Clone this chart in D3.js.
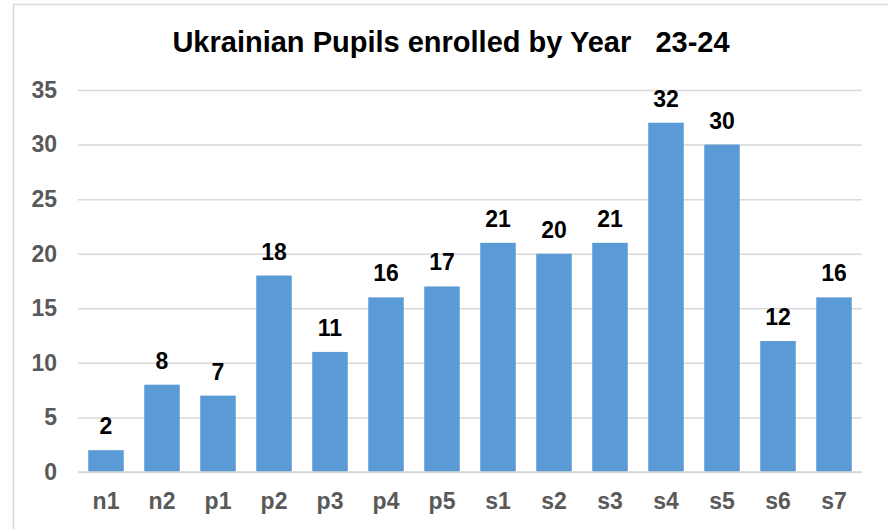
<!DOCTYPE html>
<html>
<head>
<meta charset="utf-8">
<script src="https://d3js.org/d3.v7.min.js"></script>
<style>
  body { margin: 0; background: #fff; }
  svg { display: block; font-family: "Liberation Sans", Arial, sans-serif; }
</style>
</head>
<body>
<div id="chart"></div>
<script>
// data
const years = ["n1", "n2", "p1", "p2", "p3", "p4", "p5", "s1", "s2", "s3", "s4", "s5", "s6", "s7"]
const pupils = [2, 8, 7, 18, 11, 16, 17, 21, 20, 21, 32, 30, 12, 16]
const yTicks = [0, 5, 10, 15, 20, 25, 30, 35]
const titleText = "Ukrainian Pupils enrolled by Year   23-24"

const width = 888
const height = 529
const margin = { top: 90, right: 26, bottom: 57, left: 78 }
const labelSize = 23

const svg = d3.select("#chart")
    .append("svg")
    .attr("width", width)
    .attr("height", height)

// chart border (runs off the right and bottom edge)
svg.append("rect")
    .attr("x", 13.5)
    .attr("y", 4.5)
    .attr("width", 1000)
    .attr("height", 1000)
    .attr("fill", "none")
    .attr("stroke", "#d9d9d9")
    .attr("stroke-width", 1.5)

const x = d3.scaleBand()
    .domain(years)
    .range([margin.left, width - margin.right])
    .paddingInner(0.366)
    .paddingOuter(0.183)

const y = d3.scaleLinear()
    .domain([0, 35])
    .range([height - margin.bottom, margin.top])

// gridlines + y labels
const yAxis = g => g.attr("transform", `translate(${margin.left},0)`)
    .call(d3.axisLeft(y).tickValues(yTicks).tickSize(-(width - margin.left - margin.right)).tickPadding(21))
    .call(g => g.select(".domain").remove())
    .call(g => g.selectAll(".tick line").attr("stroke", "#d9d9d9").attr("stroke-width", 1.5))
    .call(g => g.selectAll(".tick text")
        .attr("fill", "#595959")
        .attr("font-size", labelSize)
        .attr("font-weight", "bold")
        .attr("font-family", "'Liberation Sans', Arial, sans-serif"))

svg.append("g").call(yAxis)

// bars
svg.append("g")
    .selectAll("rect")
    .data(pupils)
    .enter().append("rect")
    .attr("x", (d, i) => x(years[i]))
    .attr("y", d => y(d))
    .attr("width", x.bandwidth())
    .attr("height", d => y(0) - y(d))
    .attr("fill", "#5b9bd5")

// value labels
svg.append("g")
    .selectAll("text")
    .data(pupils)
    .enter().append("text")
    .attr("x", (d, i) => x(years[i]) + x.bandwidth() / 2)
    .attr("y", d => y(d) - 16)
    .attr("text-anchor", "middle")
    .attr("font-size", labelSize)
    .attr("font-weight", "bold")
    .attr("fill", "#000")
    .text(d => d)

// x labels
const xAxis = g => g.attr("transform", `translate(0,${height - margin.bottom})`)
    .call(d3.axisBottom(x).tickSize(0).tickPadding(21))
    .call(g => g.select(".domain").remove())
    .call(g => g.selectAll(".tick text")
        .attr("fill", "#595959")
        .attr("font-size", labelSize)
        .attr("font-weight", "bold")
        .attr("font-family", "'Liberation Sans', Arial, sans-serif"))

svg.append("g").call(xAxis)

// bottom baseline drawn over the bars
svg.append("line")
    .attr("x1", margin.left)
    .attr("x2", width - margin.right)
    .attr("y1", y(0))
    .attr("y2", y(0))
    .attr("stroke", "#d9d9d9")
    .attr("stroke-width", 1.5)

// title
svg.append("text")
    .attr("x", 451)
    .attr("y", 52)
    .attr("text-anchor", "middle")
    .attr("font-size", 29)
    .attr("font-weight", "bold")
    .attr("fill", "#000")
    .style("white-space", "pre")
    .text(titleText)
</script>
</body>
</html>
